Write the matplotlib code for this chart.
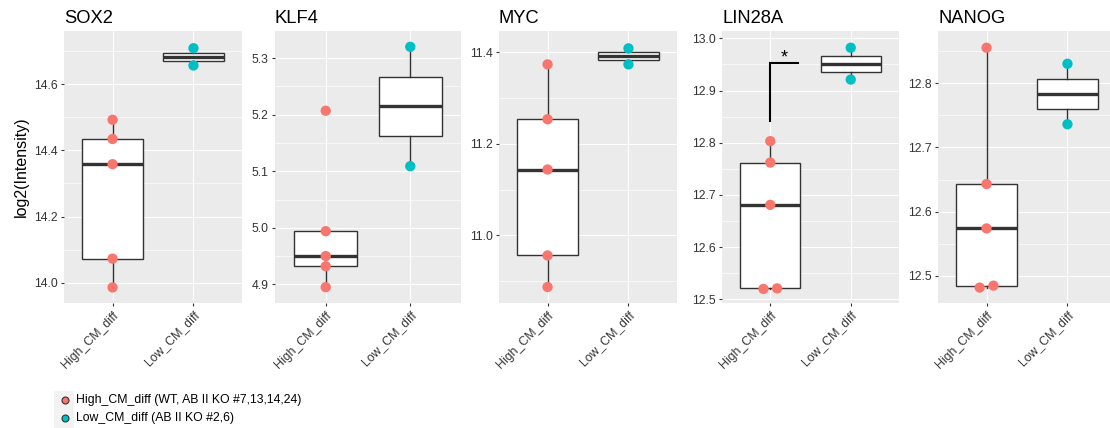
import numpy as np
import matplotlib
matplotlib.use("Agg")
import matplotlib.pyplot as plt
from matplotlib.ticker import MultipleLocator, FormatStrFormatter
from matplotlib.patches import Rectangle

plt.rcParams['font.family'] = ['Liberation Sans', 'DejaVu Sans']

genes = ['SOX2', 'KLF4', 'MYC', 'LIN28A', 'NANOG']
groups = ['High_CM_diff', 'Low_CM_diff']
colors = ['#F8766D', '#00BFC4']

high_vals = [
    [14.492, 14.434, 14.358, 14.073, 13.986],
    [5.207, 4.994, 4.950, 4.932, 4.895],
    [11.374, 11.254, 11.144, 10.956, 10.887],
    [12.803, 12.762, 12.681, 12.520, 12.521],
    [12.855, 12.643, 12.574, 12.482, 12.485],
]
low_vals = [
    [14.708, 14.656],
    [5.320, 5.109],
    [11.409, 11.374],
    [12.982, 12.921],
    [12.830, 12.736],
]
ylims = [(13.939, 14.760), (4.867, 5.348), (10.852, 11.447), (12.493, 13.014), (12.458, 12.881)]
major_steps = [0.2, 0.1, 0.2, 0.1, 0.1]

# significance bracket on LIN28A
sig_gene = 'LIN28A'
sig_y = (12.842, 12.952)
sig_x_end = 1.34
sig_label = '*'

legend_labels = ['High_CM_diff (WT, AB II KO #7,13,14,24)', 'Low_CM_diff (AB II KO #2,6)']

W, H = 1110, 428
fig = plt.figure(figsize=(W / 100, H / 100), dpi=100)

# panel pixel extents (left, right); panels top 31, bottom 303
panel_x = [(64, 242), (275, 461), (499, 677), (722, 899), (938, 1116)]
top, bottom = 31, 303


def dodge(vals, rng, width=0.085):
    # spread points that sit on (almost) the same height
    vals = np.asarray(vals)
    xs = np.zeros(len(vals))
    order = np.argsort(vals)
    i = 0
    while i < len(order):
        j = i
        while j + 1 < len(order) and vals[order[j + 1]] - vals[order[j]] < 0.02 * rng:
            j += 1
        n = j - i + 1
        if n > 1:
            xs[order[i:j + 1]] = (np.arange(n) - (n - 1) / 2) * 2 * width
        i = j + 1
    return xs


for k, gene in enumerate(genes):
    x0, x1 = panel_x[k]
    ax = fig.add_axes([x0 / W, (H - bottom) / H, (x1 - x0) / W, (bottom - top) / H])
    ax.set_facecolor('#EBEBEB')
    for s in ax.spines.values():
        s.set_visible(False)

    data = [high_vals[k], low_vals[k]]
    ax.boxplot(data, positions=[1, 2], widths=0.75, showfliers=False, patch_artist=True,
               boxprops=dict(facecolor='white', edgecolor='#333333', linewidth=1.0),
               medianprops=dict(color='#333333', linewidth=2.4),
               whiskerprops=dict(color='#333333', linewidth=1.0),
               capprops=dict(linewidth=0), zorder=3)

    lo, hi = ylims[k]
    for g, vals in enumerate(data):
        xs = g + 1 + dodge(vals, hi - lo)
        ax.scatter(xs, vals, s=55, color=colors[g], edgecolors='none', zorder=4)

    if gene == sig_gene:
        ax.plot([1, 1, sig_x_end], [sig_y[0], sig_y[1], sig_y[1]], color='black', lw=1.5,
                solid_joinstyle='miter', zorder=5)
        ax.text((1 + sig_x_end) / 2, sig_y[1] - 0.006, sig_label, ha='center', va='bottom',
                fontsize=13, zorder=5)

    ax.set_xlim(0.4, 2.6)
    ax.set_ylim(lo, hi)
    ax.yaxis.set_major_locator(MultipleLocator(major_steps[k]))
    ax.yaxis.set_minor_locator(MultipleLocator(major_steps[k] / 2))
    ax.yaxis.set_major_formatter(FormatStrFormatter('%.1f'))
    ax.set_xticks([1, 2])
    ax.set_xticklabels(groups, rotation=45, ha='right', va='top', rotation_mode='anchor')
    ax.grid(True, which='major', color='white', lw=0.85, zorder=0)
    ax.grid(True, which='minor', axis='y', color='white', lw=0.45, zorder=0)
    ax.set_axisbelow(True)
    ax.tick_params(axis='both', which='major', length=2.5, width=0.8, color='#333333',
                   labelsize=8.8, labelcolor='#333333', pad=2)
    ax.tick_params(axis='y', which='minor', length=0)
    ax.set_title(gene, loc='left', fontsize=13.2, pad=6)
    if k == 0:
        ax.set_ylabel('log2(Intensity)', fontsize=11.5, labelpad=4)

# legend, drawn in a small pixel-coordinate axes
lx0, lx1, ly0, ly1 = 40, 420, 385, 428
lax = fig.add_axes([lx0 / W, (H - ly1) / H, (lx1 - lx0) / W, (ly1 - ly0) / H])
lax.set_xlim(lx0, lx1)
lax.set_ylim(ly1, ly0)
lax.axis('off')
lax.add_patch(Rectangle((54, 391), 20, 37, facecolor='#F2F2F2', edgecolor='none'))
for i, (c, lab) in enumerate(zip(colors, legend_labels)):
    yy = 400 + i * 18
    lax.plot([64.5], [yy], marker='o', markersize=5, markerfacecolor=c,
             markeredgecolor='#333333', markeredgewidth=0.8, linestyle='none')
    lax.text(76, yy, lab, fontsize=8.8, va='center', ha='left')

fig.savefig('out.png', dpi=100)
